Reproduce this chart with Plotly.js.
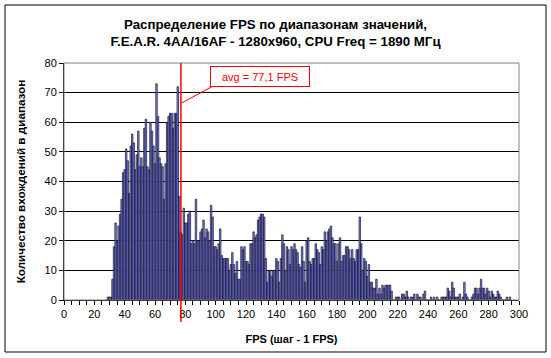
<!DOCTYPE html>
<html>
<head>
<meta charset="utf-8">
<script src="https://cdn.plot.ly/plotly-3.0.1.min.js"></script>
<style>
  html, body { margin: 0; padding: 0; background: #ffffff; }
  #chart { width: 551px; height: 358px; }
</style>
</head>
<body>
<div id="chart"></div>
<script>
// ---- Data ----
const binStart = 28;   // first FPS bin
const binStep = 1;     // FPS per bin ("шаг - 1 FPS")
const counts = [
  0, 1, 1, 1, 7, 18, 26, 20, 25, 29, 34, 43,
  44, 51, 47, 36, 52, 56, 53, 44, 49, 57,
  45, 48, 45, 58, 61, 45, 44, 60, 57, 52,
  46, 73, 62, 48, 46, 45, 34, 46, 60, 62,
  63, 63, 58, 63, 63, 72, 35, 23, 22, 31,
  26, 26, 29, 30, 19, 20, 19, 34, 20, 20,
  23, 24, 27, 21, 24, 23, 20, 32, 28, 18,
  18, 17, 19, 24, 15, 14, 14, 14, 14, 10,
  12, 16, 12, 9, 13, 7, 7, 18, 17, 18,
  13, 13, 12, 19, 19, 23, 21, 22, 27, 28,
  29, 29, 28, 14, 6, 10, 10, 8, 10, 10,
  14, 13, 6, 14, 22, 19, 10, 18, 17, 12,
  18, 17, 19, 17, 16, 12, 11, 18, 13, 6,
  20, 21, 13, 12, 14, 14, 19, 17, 16, 12,
  18, 17, 23, 20, 23, 24, 25, 21, 19, 19,
  13, 19, 21, 13, 15, 15, 18, 18, 17, 14,
  17, 14, 13, 17, 17, 28, 19, 10, 14, 13,
  8, 12, 6, 6, 4, 4, 7, 2, 4, 2,
  5, 4, 5, 5, 5, 5, 3, 0, 0, 1,
  1, 1, 0, 2, 2, 1, 3, 1, 0, 1,
  1, 2, 0, 2, 1, 1, 0, 2, 3, 0,
  0, 0, 1, 0, 1, 0, 1, 0, 0, 1,
  1, 1, 1, 4, 3, 1, 6, 4, 1, 1,
  1, 2, 0, 1, 6, 2, 1, 0, 0, 1,
  2, 4, 4, 2, 4, 7, 4, 4, 2, 4,
  3, 1, 3, 2, 1, 1, 3, 2, 1, 0,
  0, 0, 1, 0, 1
];
const fps = counts.map((_, i) => binStart + i * binStep);
const avgFps = 77.1;
const avgLabel = 'avg = 77,1 FPS';
const xTickLabels = [0, 20, 40, 60, 80, 100, 120, 140, 160, 180, 200, 220, 240, 260, 280, 300];

// ---- Chart ----
const FONT = 'Liberation Sans, Arial, sans-serif';

const trace = {
  type: 'bar',
  x: fps,
  y: counts,
  marker: { color: '#8080FF', line: { color: '#000000', width: 0.6 } },
  hoverinfo: 'x+y'
};

const layout = {
  width: 551,
  height: 358,
  margin: { l: 64, r: 32, t: 63, b: 58 },
  paper_bgcolor: '#ffffff',
  plot_bgcolor: '#ffffff',
  bargap: 0,
  showlegend: false,
  font: { family: FONT, size: 11, color: '#000000' },
  title: {
    text: 'Распределение FPS по диапазонам значений,<br>F.E.A.R. 4AA/16AF - 1280x960, CPU Freq = 1890 МГц',
    font: { family: FONT, size: 13.3, color: '#000000', weight: 'bold' },
    xref: 'container', x: 0.5, xanchor: 'center',
    yref: 'container', y: 1 - 29 / 358, yanchor: 'middle'
  },
  xaxis: {
    range: [0, 300],
    tickmode: 'array',
    tickvals: xTickLabels,
    ticktext: xTickLabels.map(String),
    ticks: 'outside', ticklen: 4, tickcolor: '#000000', tickwidth: 1,
    minor: { dtick: 5, tick0: 0, ticks: 'outside', ticklen: 4, tickcolor: '#000000', showgrid: false },
    showline: true, linecolor: '#000000', linewidth: 1,
    showgrid: false, zeroline: false,
    tickfont: { family: FONT, size: 11, color: '#000000' },
    title: { text: 'FPS (шаг - 1 FPS)', font: { family: FONT, size: 11, color: '#000000', weight: 'bold' }, standoff: 16 }
  },
  yaxis: {
    range: [0, 80],
    dtick: 10, tick0: 0,
    ticks: 'outside', ticklen: 4, tickcolor: '#000000', tickwidth: 1,
    showline: true, linecolor: '#000000', linewidth: 1,
    showgrid: true, gridcolor: '#000000', gridwidth: 1,
    zeroline: false,
    tickfont: { family: FONT, size: 11, color: '#000000' },
    title: { text: 'Количество вхождений в диапазон', font: { family: FONT, size: 11.7, color: '#000000', weight: 'bold' }, standoff: 16 }
  },
  shapes: [
    // outer chart frame
    { type: 'rect', xref: 'paper', yref: 'paper',
      x0: (5 - 64) / 455, x1: (546 - 64) / 455, y0: (300 - 352) / 237, y1: (300 - 5) / 237,
      line: { color: '#000000', width: 1 }, layer: 'below' },
    // plot area border (gray)
    { type: 'rect', xref: 'paper', yref: 'paper', x0: 0, x1: 1, y0: 0, y1: 1,
      line: { color: '#808080', width: 1 }, layer: 'above' },
    // average line
    { type: 'line', xref: 'x', yref: 'paper', x0: avgFps, x1: avgFps, y0: -0.093, y1: 1,
      line: { color: '#FF0000', width: 1.5 }, layer: 'above' },
    // leader line to the label
    { type: 'line', xref: 'x', yref: 'y', x0: avgFps + 0.5, y0: 66.5, x1: 97.5, y1: 72,
      line: { color: '#FF0000', width: 1 }, layer: 'above' }
  ],
  annotations: [
    { text: avgLabel, xref: 'x', yref: 'y', x: 129.2, y: 75.3,
      xanchor: 'center', yanchor: 'middle', showarrow: false,
      font: { family: FONT, size: 11, color: '#FF0000' },
      bgcolor: '#ffffff', bordercolor: '#FF0000', borderwidth: 1,
      width: 94, height: 15, borderpad: 2 }
  ]
};

Plotly.newPlot('chart', [trace], layout, { displayModeBar: false, staticPlot: true });
</script>
</body>
</html>
